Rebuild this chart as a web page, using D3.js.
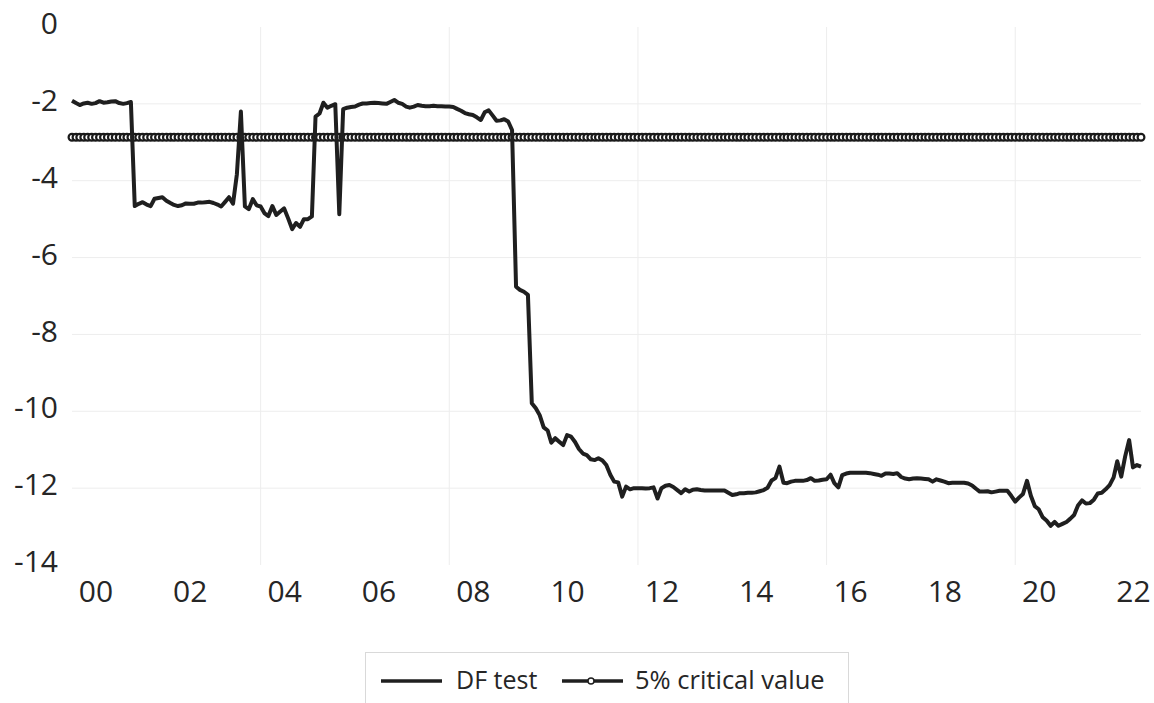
<!DOCTYPE html>
<html>
<head>
<meta charset="utf-8">
<script src="https://cdn.jsdelivr.net/npm/d3@7"></script>
<style>
body { margin: 0; background: #fff; }
text { font-family: "Open Sans", sans-serif; fill: #262626; }
</style>
</head>
<body>
<svg id="chart" width="1154" height="703"></svg>
<script>
// monthly observations, first one is Jan 2000
var firstMonth = new Date(2000, 0, 1);

var dfTest = [
    -1.92, -1.98, -2.03, -1.99, -1.97, -2.00, -1.98, -1.93, -1.97, -1.96, -1.94, -1.93,   // 2000
    -1.98, -2.00, -1.98, -1.95, -4.66, -4.60, -4.56, -4.62, -4.66, -4.47, -4.45, -4.43,   // 2001
    -4.52, -4.58, -4.63, -4.66, -4.64, -4.59, -4.60, -4.60, -4.57, -4.57, -4.56, -4.55,   // 2002
    -4.58, -4.62, -4.67, -4.55, -4.43, -4.60, -3.83, -2.20, -4.67, -4.74, -4.48, -4.64,   // 2003
    -4.67, -4.85, -4.92, -4.66, -4.89, -4.80, -4.72, -4.98, -5.26, -5.10, -5.20, -5.00,   // 2004
    -5.00, -4.93, -2.33, -2.25, -1.97, -2.10, -2.05, -2.01, -4.87, -2.14, -2.10, -2.08,   // 2005
    -2.07, -2.02, -1.99, -1.99, -1.98, -1.97, -1.98, -1.99, -2.00, -1.95, -1.90, -1.97,   // 2006
    -2.00, -2.07, -2.10, -2.07, -2.03, -2.05, -2.06, -2.06, -2.05, -2.06, -2.06, -2.07,   // 2007
    -2.07, -2.08, -2.13, -2.18, -2.24, -2.27, -2.29, -2.35, -2.42, -2.22, -2.17, -2.30,   // 2008
    -2.44, -2.43, -2.40, -2.46, -2.68, -6.76, -6.84, -6.89, -6.97, -9.79, -9.92, -10.10,  // 2009
    -10.42, -10.50, -10.82, -10.70, -10.79, -10.88, -10.62, -10.66, -10.80, -10.98, -11.10, -11.14, // 2010
    -11.25, -11.27, -11.22, -11.28, -11.40, -11.65, -11.83, -11.85, -12.22, -11.96, -12.03, -12.00, // 2011
    -12.00, -12.00, -12.01, -12.00, -11.98, -12.27, -12.00, -11.94, -11.92, -11.97, -12.05, -12.13, // 2012
    -12.03, -12.09, -12.04, -12.03, -12.05, -12.06, -12.06, -12.06, -12.06, -12.06, -12.06, -12.12, // 2013
    -12.18, -12.16, -12.13, -12.13, -12.12, -12.12, -12.11, -12.08, -12.05, -11.99, -11.80, -11.74, // 2014
    -11.44, -11.86, -11.87, -11.83, -11.81, -11.81, -11.81, -11.79, -11.74, -11.81, -11.80, -11.78, // 2015
    -11.77, -11.65, -11.87, -11.98, -11.66, -11.62, -11.60, -11.60, -11.60, -11.60, -11.60, -11.61, // 2016
    -11.63, -11.65, -11.68, -11.62, -11.62, -11.63, -11.61, -11.71, -11.75, -11.77, -11.75, -11.74, // 2017
    -11.75, -11.76, -11.77, -11.83, -11.77, -11.80, -11.83, -11.87, -11.86, -11.86, -11.86, -11.86, // 2018
    -11.88, -11.93, -12.01, -12.09, -12.09, -12.08, -12.11, -12.09, -12.07, -12.07, -12.07, -12.20, // 2019
    -12.35, -12.24, -12.15, -11.81, -12.20, -12.47, -12.55, -12.76, -12.85, -12.98, -12.88, -12.98, // 2020
    -12.93, -12.88, -12.80, -12.70, -12.45, -12.32, -12.40, -12.39, -12.30, -12.14, -12.12, -12.03, // 2021
    -11.92, -11.72, -11.30, -11.70, -11.18, -10.75, -11.46, -11.40, -11.44                          // 2022
];

var criticalLevel = -2.87;

var yTicks = [0, -2, -4, -6, -8, -10, -12, -14];
var yGrid = [-2, -4, -6, -8, -10, -12];
var xLabelYears = [2000, 2002, 2004, 2006, 2008, 2010, 2012, 2014, 2016, 2018, 2020, 2022];
var xLabels = ["00", "02", "04", "06", "08", "10", "12", "14", "16", "18", "20", "22"];
var xGridYears = [2004, 2008, 2012, 2016, 2020];

var legendItems = ["DF test", "5% critical value"];

var plot = { left: 72, right: 1141, top: 27, bottom: 565 };

var rows = dfTest.map(function (v, i) {
    return { date: d3.timeMonth.offset(firstMonth, i), df: v, cv: criticalLevel };
});

var x = d3.scaleTime()
    .domain([firstMonth, rows[rows.length - 1].date])
    .range([plot.left, plot.right]);

var y = d3.scaleLinear()
    .domain([-14, 0])
    .range([plot.bottom, plot.top]);

var svg = d3.select("#chart");

// grid
svg.append("g")
    .selectAll("line.hgrid")
    .data(yGrid)
    .enter()
    .append("line")
    .attr("class", "hgrid")
    .attr("x1", plot.left)
    .attr("x2", plot.right)
    .attr("y1", function (d) { return y(d); })
    .attr("y2", function (d) { return y(d); })
    .attr("stroke", "#ededed")
    .attr("stroke-width", 1);

svg.append("g")
    .selectAll("line.vgrid")
    .data(xGridYears)
    .enter()
    .append("line")
    .attr("class", "vgrid")
    .attr("x1", function (d) { return x(new Date(d, 0, 1)); })
    .attr("x2", function (d) { return x(new Date(d, 0, 1)); })
    .attr("y1", plot.top)
    .attr("y2", plot.bottom)
    .attr("stroke", "#ededed")
    .attr("stroke-width", 1);

// axes
var yAxis = svg.append("g")
    .attr("transform", "translate(" + plot.left + ",0)")
    .call(d3.axisLeft(y).tickValues(yTicks).tickSize(0).tickPadding(14)
        .tickFormat(function (d) { return String(d); }));
yAxis.select(".domain").remove();
yAxis.selectAll("text")
    .attr("dy", "0.22em")
    .style("font-size", "30px")
    .attr("fill", "#262626");

var xAxis = svg.append("g")
    .attr("transform", "translate(0," + plot.bottom + ")")
    .call(d3.axisBottom(x)
        .tickValues(xLabelYears.map(function (yr) { return new Date(yr, 6, 1); }))
        .tickSize(0).tickPadding(16)
        .tickFormat(function (d, i) { return xLabels[i]; }));
xAxis.select(".domain").remove();
xAxis.selectAll("text").style("font-size", "30px").attr("fill", "#262626");

// critical value line with markers
var cvLine = d3.line()
    .x(function (d) { return x(d.date); })
    .y(function (d) { return y(d.cv); });

svg.append("path")
    .datum(rows)
    .attr("d", cvLine)
    .attr("fill", "none")
    .attr("stroke", "#1a1a1a")
    .attr("stroke-width", 6);

svg.append("g")
    .selectAll("circle")
    .data(rows)
    .enter()
    .append("circle")
    .attr("cx", function (d) { return x(d.date); })
    .attr("cy", function (d) { return y(d.cv); })
    .attr("r", 3.4)
    .attr("fill", "#fff")
    .attr("stroke", "#1a1a1a")
    .attr("stroke-width", 2.2);

// DF test series
var dfLine = d3.line()
    .x(function (d) { return x(d.date); })
    .y(function (d) { return y(d.df); });

svg.append("path")
    .datum(rows)
    .attr("d", dfLine)
    .attr("fill", "none")
    .attr("stroke", "#1f1f1f")
    .attr("stroke-width", 4)
    .attr("stroke-linejoin", "round");

// legend
var legend = svg.append("g");
legend.append("rect")
    .attr("x", 365.5)
    .attr("y", 652.5)
    .attr("width", 483)
    .attr("height", 70)
    .attr("fill", "#fff")
    .attr("stroke", "#d9d9d9");

legend.append("line")
    .attr("x1", 381).attr("x2", 442)
    .attr("y1", 681).attr("y2", 681)
    .attr("stroke", "#1f1f1f").attr("stroke-width", 3.5);
legend.append("text")
    .attr("x", 456).attr("y", 689)
    .style("font-size", "25px")
    .text(legendItems[0]);

legend.append("line")
    .attr("x1", 562).attr("x2", 623)
    .attr("y1", 681).attr("y2", 681)
    .attr("stroke", "#1f1f1f").attr("stroke-width", 3.5);
legend.append("circle")
    .attr("cx", 591).attr("cy", 681).attr("r", 3)
    .attr("fill", "#fff").attr("stroke", "#1f1f1f").attr("stroke-width", 1.5);
legend.append("text")
    .attr("x", 635).attr("y", 689)
    .style("font-size", "25.5px")
    .text(legendItems[1]);
</script>
</body>
</html>
